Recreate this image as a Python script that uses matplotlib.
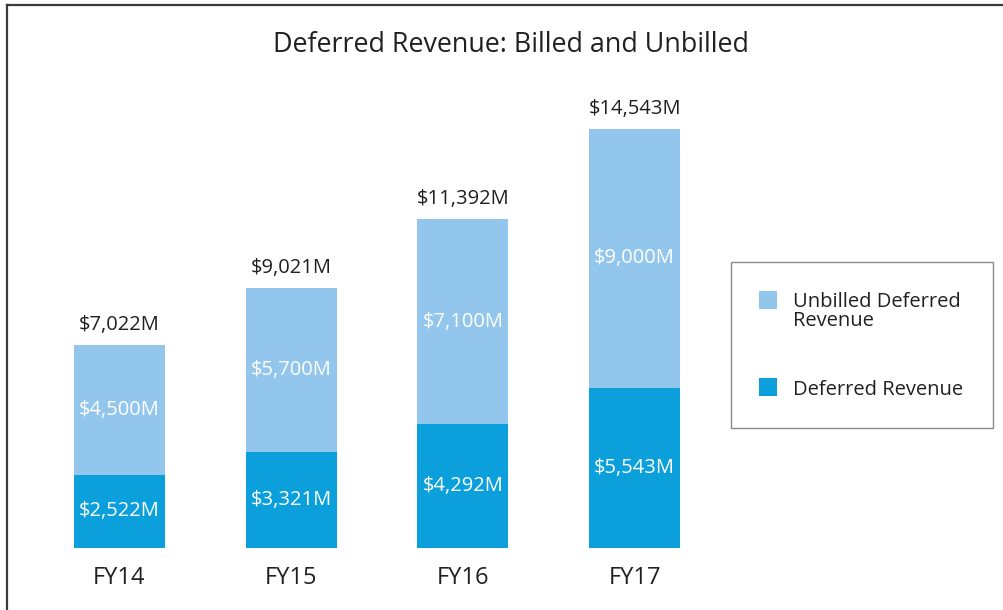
import matplotlib
matplotlib.use("Agg")
import matplotlib.pyplot as plt
from matplotlib.patches import Rectangle
from matplotlib.lines import Line2D

categories = ["FY14", "FY15", "FY16", "FY17"]
billed = [2522, 3321, 4292, 5543]
unbilled = [4500, 5700, 7100, 9000]
totals = [7022, 9021, 11392, 14543]
series_names = ["Unbilled Deferred\nRevenue", "Deferred Revenue"]

C_LIGHT = "#93C6EC"
C_DARK = "#0BA0DC"
C_TEXT = "#231F20"
FONT = ["Open Sans", "DejaVu Sans"]
plt.rcParams["font.family"] = FONT

W, H = 1004, 610
fig = plt.figure(figsize=(W / 100, H / 100), dpi=100)
fig.patch.set_facecolor("white")

px_per_unit = 171.7
x0_px = 119.5
base_px = 547.5
px_per_val = 0.0288
ymax = 18000
ax = fig.add_axes([0, (H - base_px) / H, 1, ymax * px_per_val / H])
ax.set_xlim(-x0_px / px_per_unit, (W - x0_px) / px_per_unit)
ax.set_ylim(0, ymax)
ax.axis("off")

x = list(range(len(categories)))
bw = 91 / px_per_unit
ax.bar(x, billed, width=bw, color=C_DARK, label=series_names[1])
ax.bar(x, unbilled, width=bw, bottom=billed, color=C_LIGHT, label=series_names[0])

for i in x:
    ax.text(i, billed[i] / 2, f"${billed[i]:,}M", ha="center", va="center",
            color="white", fontsize=14.5)
    ax.text(i, billed[i] + unbilled[i] / 2, f"${unbilled[i]:,}M", ha="center",
            va="center", color="white", fontsize=14.5)
    ax.annotate(f"${totals[i]:,}M", xy=(i, totals[i]), xytext=(0, 20),
                textcoords="offset pixels", ha="center", va="center",
                color=C_TEXT, fontsize=14.5)
    ax.annotate(categories[i], xy=(i, 0), xytext=(0, -31),
                textcoords="offset pixels", ha="center", va="center",
                color=C_TEXT, fontsize=17)

# title
fig.text(511 / W, 1 - 45 / H, "Deferred Revenue: Billed and Unbilled",
         ha="center", va="center", fontsize=19.4, color=C_TEXT)

# frame (top and left edges)
fig.add_artist(Line2D([7 / W, 7 / W], [0, 1 - 5 / H], transform=fig.transFigure,
                      color="#3A3A3A", lw=1.6))
fig.add_artist(Line2D([7 / W, 1], [1 - 5 / H, 1 - 5 / H], transform=fig.transFigure,
                      color="#3A3A3A", lw=1.6))

# legend box
def fx(p):
    return p / W

def fy(p):
    return 1 - p / H

fig.add_artist(Rectangle((fx(731), fy(428)), fx(993) - fx(731), fy(262) - fy(428),
                         transform=fig.transFigure, facecolor="white",
                         edgecolor="#8A8A8A", lw=1.0))
legend_colors = [C_LIGHT, C_DARK]
legend_box_y = [300, 387]
legend_base_y = [326, 395]
for name, col, yc, yb in zip(series_names, legend_colors, legend_box_y, legend_base_y):
    fig.add_artist(Rectangle((fx(759), fy(yc + 9)), 18 / W, 18 / H,
                             transform=fig.transFigure, facecolor=col,
                             edgecolor="none"))
    fig.text(fx(793), fy(yb), name, ha="left", va="baseline", fontsize=14.5,
             color=C_TEXT, linespacing=0.95)

fig.savefig("out.png", dpi=100)
